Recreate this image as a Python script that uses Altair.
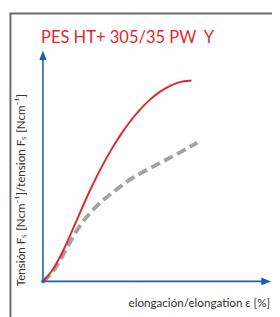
import altair as alt
import pandas as pd

# Data (arbitrary units: x = elongation, y = tension)
red_x = [0, 10, 20, 30, 40, 50, 60, 70, 80, 90, 100, 110, 120, 130, 140, 153]
red_y = [0, 12, 30, 52, 75, 97, 117, 135, 151, 165, 177, 187, 195, 201, 205, 207]
gray_x = [0, 10, 20, 30, 40, 50, 60, 70, 80, 90, 100, 115, 130, 145, 159]
gray_y = [0, 10, 26, 44, 60, 72, 82, 90, 98, 105, 111, 119, 127, 135, 143]

title_text = "PES HT+ 305/35 PW\u00a0\u00a0Y"
y_label = "Tensión Fₛ [Ncm⁻¹]/tension Fₛ [Ncm⁻¹]"
x_label = "elongación/elongation ε [%]"

X_MAX = 235
Y_MAX = 238
W, H = 235, 238
BLUE = "#1f5ea8"
RED = "#e3262d"
GRAY = "#a3a3a3"
FONT = "Lato"

red = pd.DataFrame({"x": red_x, "y": red_y})
gray = pd.DataFrame({"x": gray_x, "y": gray_y})

xs = alt.Scale(domain=[0, X_MAX], nice=False, zero=False)
ys = alt.Scale(domain=[0, Y_MAX], nice=False, zero=False)
noax = None

axes_df = pd.DataFrame({
    "x": [0, -2], "x2": [0, X_MAX - 9],
    "y": [-2, 0], "y2": [Y_MAX - 9, 0],
})
axes = alt.Chart(axes_df).mark_rule(color=BLUE, strokeWidth=1.6, clip=False).encode(
    x=alt.X("x:Q", scale=xs, axis=noax), x2="x2:Q",
    y=alt.Y("y:Q", scale=ys, axis=noax), y2="y2:Q",
)

arrow_y = alt.Chart(pd.DataFrame({"x": [0], "y": [Y_MAX - 5]})).mark_point(
    shape="M0,-1L0.75,1L-0.75,1Z", filled=True, opacity=1, color=BLUE, size=100, clip=False
).encode(x=alt.X("x:Q", scale=xs, axis=noax), y=alt.Y("y:Q", scale=ys, axis=noax))

arrow_x = alt.Chart(pd.DataFrame({"x": [X_MAX - 5], "y": [0]})).mark_point(
    shape="M1,0L-1,-0.8L-1,0.8Z", filled=True, opacity=1, color=BLUE, size=100, clip=False
).encode(x=alt.X("x:Q", scale=xs, axis=noax), y=alt.Y("y:Q", scale=ys, axis=noax))

gray_line = alt.Chart(gray).mark_line(
    color=GRAY, strokeWidth=4, strokeDash=[10, 5], interpolate="monotone"
).encode(x=alt.X("x:Q", scale=xs, axis=noax), y=alt.Y("y:Q", scale=ys, axis=noax))

red_line = alt.Chart(red).mark_line(
    color=RED, strokeWidth=2, interpolate="monotone"
).encode(x=alt.X("x:Q", scale=xs, axis=noax), y=alt.Y("y:Q", scale=ys, axis=noax))

# Frame lines (left and top)
frame_left = alt.Chart(pd.DataFrame({"a": [0]})).mark_rule(
    color="#6b6b6b", strokeWidth=2, clip=False
).encode(x=alt.value(-33.5), y=alt.value(-38), y2=alt.value(H + 40))
frame_top = alt.Chart(pd.DataFrame({"a": [0]})).mark_rule(
    color="#6b6b6b", strokeWidth=2, clip=False
).encode(y=alt.value(-38), x=alt.value(-34.5), x2=alt.value(W + 5))

title = alt.Chart(pd.DataFrame({"t": [title_text]})).mark_text(
    align="left", baseline="alphabetic", font=FONT, fontSize=17, color=RED
).encode(text="t:N", x=alt.value(-2), y=alt.value(-7.5))

ytitle = alt.Chart(pd.DataFrame({"t": [y_label]})).mark_text(
    align="left", baseline="middle", font=FONT, fontSize=12, color="#333333", angle=270
).encode(text="t:N", x=alt.value(-22), y=alt.value(H + 5))

xtitle = alt.Chart(pd.DataFrame({"t": [x_label]})).mark_text(
    align="right", baseline="alphabetic", font=FONT, fontSize=12, color="#333333"
).encode(text="t:N", x=alt.value(W - 1), y=alt.value(H + 26))

chart = alt.layer(
    frame_left, frame_top, gray_line, red_line, axes, arrow_y, arrow_x, title, ytitle, xtitle
).properties(
    width=W, height=H,
    autosize=alt.AutoSizeParams(type="none"),
    padding={"left": 36, "top": 39, "right": 1, "bottom": 32},
).configure_view(stroke=None)

chart.save("out.html", embed_options={"renderer": "svg", "actions": False})
